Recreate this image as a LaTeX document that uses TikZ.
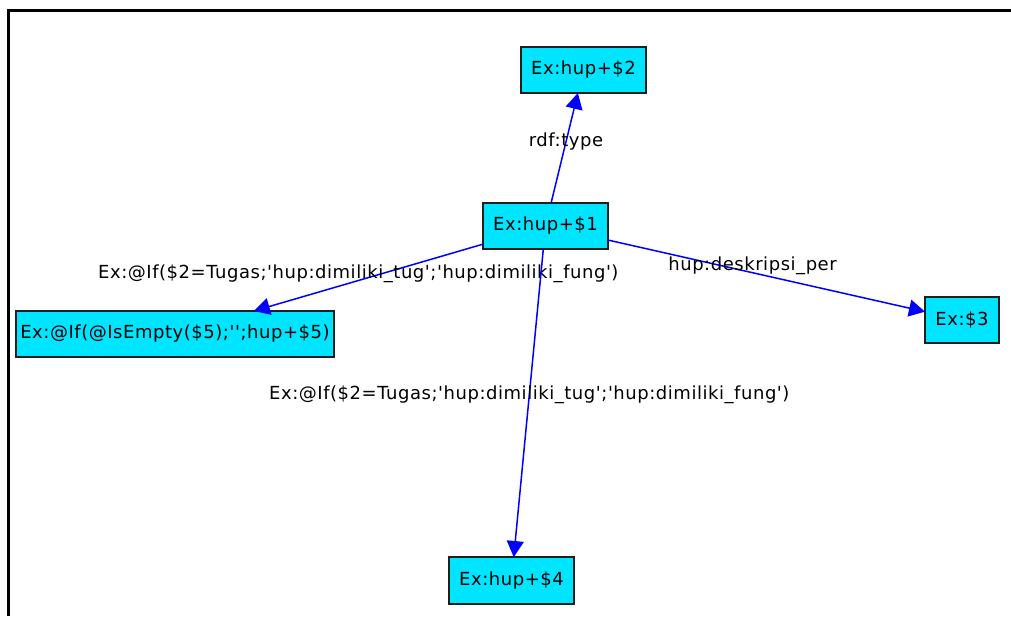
\documentclass[tikz,border=0pt]{standalone}
\usepackage{fontspec}
\setmainfont{DejaVu Sans}[LetterSpace=3.0,Ligatures=TeXOff]
\usetikzlibrary{arrows.meta}
\definecolor{boxfill}{RGB}{0,229,255}
\definecolor{edgeblue}{RGB}{0,0,255}
\definecolor{boxline}{RGB}{30,30,30}
\begin{document}
\begin{tikzpicture}[x=1pt,y=-1pt,
  box/.style={draw=boxline,line width=1.4pt,fill=boxfill,inner sep=0pt,outer sep=0pt,
    minimum height=46pt,font=\fontsize{18}{20}\selectfont,text=black},
  lbl/.style={font=\fontsize{18}{20}\selectfont,text=black,inner sep=0pt,fill=none},
  conn/.style={draw=edgeblue,line width=1.5pt,-{Triangle[length=16pt,width=17pt]}}]
\useasboundingbox[fill=white] (0,0) rectangle (1011,616);
\draw[line width=2.7pt,line cap=butt] (1011,10.5) -- (8.7,10.5) -- (8.7,616);
\node[box,minimum width=125pt] (n1) at (545.5,226) {Ex:hup+\$1};
\node[box,minimum width=125pt] (n2) at (583.5,70) {Ex:hup+\$2};
\node[box,minimum width=318pt] (n5) at (175,334) {Ex:@If(@IsEmpty(\$5);'';hup+\$5)};
\node[box,minimum width=74pt] (n3) at (962,320) {Ex:\$3};
\node[box,minimum width=125pt,minimum height=47pt] (n4) at (511.5,580.5) {Ex:hup+\$4};
\draw[conn] (n1) -- (n2) node[lbl,pos=0.555] (l1) {rdf:type};
\draw[conn] (n1) -- (n5) node[lbl,pos=0.544,yshift=7pt] (l2) {Ex:@If(\$2=Tugas;'hup:dimiliki\_tug';'hup:dimiliki\_fung')};
\draw[conn] (n1) -- (n3) node[lbl,pos=0.456,yshift=7pt] (l3) {hup:deskripsi\_per};
\draw[conn] (n1) -- (n4) node[lbl,pos=0.474] (l4) {Ex:@If(\$2=Tugas;'hup:dimiliki\_tug';'hup:dimiliki\_fung')};
\end{tikzpicture}
\end{document}
